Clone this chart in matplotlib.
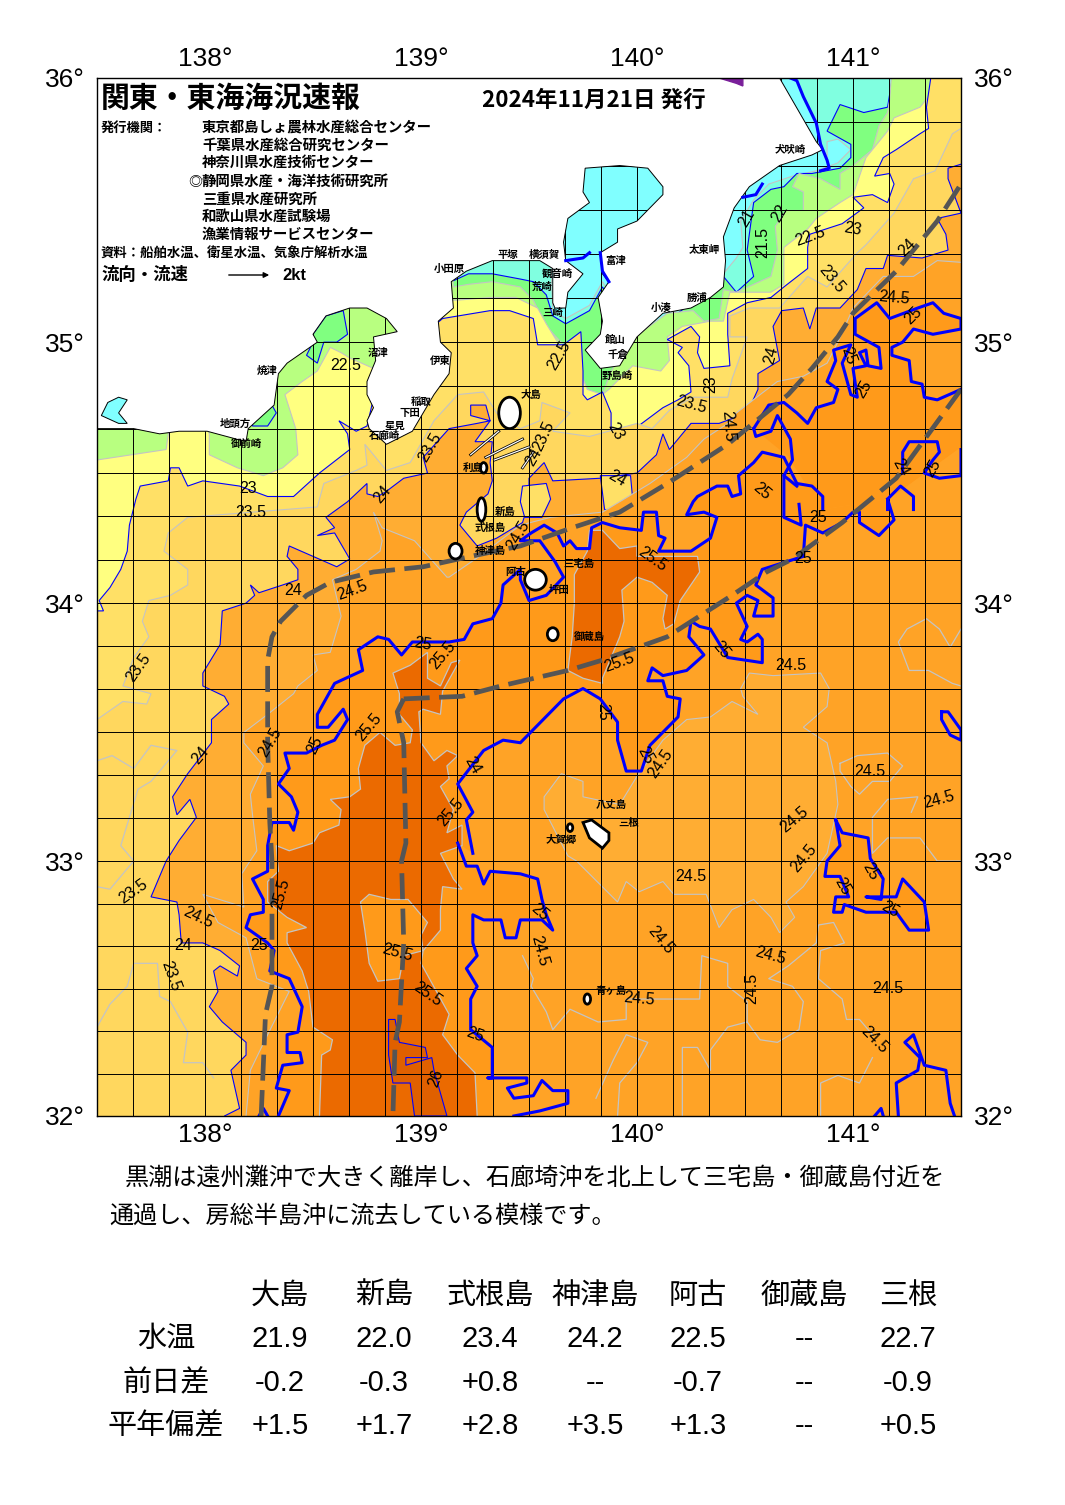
import numpy as np
import matplotlib
matplotlib.use("Agg")
import matplotlib.pyplot as plt
from matplotlib.patches import Polygon, Ellipse

plt.rcParams['font.family'] = ['Noto Sans CJK JP', 'DejaVu Sans']

# sea surface temperature areas, each list = boundary of water warmer than t (lon, lat)
t21 = [(137.47,36.03),(139.55,36.03),(139.6,35.35),(139.61,35.12),(139.67,35.09),(139.78,35.14),(139.84,35.23),(140.01,35.01),(140.4,35.26),(140.46,35.32),(140.49,35.36),(140.48,35.46),(140.54,35.54),(140.61,35.6),(140.72,35.63),(140.83,35.65),(140.93,35.68),(140.99,35.73),(140.93,35.77),(140.88,35.76),(140.88,35.69),(140.85,35.75),(140.83,35.83),(140.77,35.93),(140.74,35.99),(140.71,36.0),(140.69,36.03)]
t215 = [(137.47,36.03),(139.09,36.03),(139.14,35.23),(139.22,35.26),(139.33,35.26),(139.46,35.24),(139.52,35.23),(139.58,35.18),(139.61,35.10),(139.67,35.07),(139.78,35.12),(139.84,35.21),(140.01,34.99),(140.4,35.25),(140.46,35.19),(140.54,35.25),(140.51,35.35),(140.54,35.53),(140.62,35.58),(140.68,35.59),(140.74,35.64),(140.81,35.64),(140.94,35.66),(140.99,35.7),(140.99,35.75),(140.88,35.8),(140.94,35.9),(141.05,35.87),(141.16,35.89),(141.18,35.99),(141.2,36.03)]
t22 = [(137.47,36.03),(139.09,36.03),(139.15,35.21),(139.22,35.22),(139.33,35.23),(139.46,35.21),(139.52,35.16),(139.58,35.06),(139.66,34.99),(139.71,34.91),(139.76,34.83),(139.79,34.8),(139.84,34.8),(139.88,34.89),(139.99,35.02),(140.14,35.11),(140.26,35.12),(140.31,35.08),(140.38,35.09),(140.4,35.2),(140.46,35.19),(140.62,35.25),(140.65,35.35),(140.64,35.44),(140.69,35.5),(140.77,35.5),(140.77,35.57),(140.72,35.59),(140.75,35.64),(140.85,35.62),(140.94,35.58),(140.94,35.64),(141.0,35.67),(141.09,35.73),(141.12,35.82),(141.16,35.87),(141.17,35.92),(141.18,36.03)]
t225 = [(137.47,34.55),(137.5,34.55),(137.82,34.59),(137.83,34.65),(137.85,34.7),(138.0,34.7),(138.02,34.65),(138.02,34.57),(138.15,34.52),(138.27,34.49),(138.36,34.52),(138.43,34.57),(138.42,34.67),(138.37,34.8),(138.45,34.85),(138.52,34.89),(138.58,34.98),(138.63,34.96),(138.67,34.94),(138.78,34.9),(138.81,35.0),(139.09,35.16),(139.17,35.16),(139.32,35.17),(139.44,35.17),(139.54,35.13),(139.58,35.07),(139.64,34.99),(139.69,34.9),(139.75,34.86),(139.77,34.82),(139.84,34.8),(139.87,34.82),(139.98,34.91),(140.11,34.89),(140.15,34.93),(140.14,35.02),(140.21,35.06),(140.34,35.08),(140.4,35.08),(140.43,35.19),(140.62,35.19),(140.68,35.22),(140.68,35.36),(140.79,35.43),(140.83,35.47),(140.94,35.53),(141.0,35.56),(141.06,35.7),(141.16,35.8),(141.19,35.85),(141.31,35.89),(141.36,35.94),(141.5,35.99),(141.55,36.01)]
t23 = [(137.47,33.95),(137.5,33.97),(137.53,33.97),(137.51,34.01),(137.56,34.06),(137.61,34.13),(137.64,34.2),(137.65,34.3),(137.68,34.4),(137.7,34.45),(137.83,34.47),(137.84,34.52),(137.88,34.52),(137.92,34.45),(137.99,34.47),(138.16,34.45),(138.29,34.41),(138.41,34.41),(138.53,34.5),(138.67,34.59),(138.66,34.65),(138.62,34.7),(138.7,34.66),(138.75,34.68),(138.81,34.89),(139.1,35.09),(139.32,35.12),(139.41,35.12),(139.52,35.09),(139.54,34.99),(139.66,34.99),(139.74,35.04),(139.75,34.89),(139.75,34.8),(139.77,34.78),(139.84,34.81),(139.88,34.73),(139.88,34.67),(139.94,34.64),(139.99,34.67),(140.12,34.75),(140.19,34.78),(140.25,34.81),(140.24,34.91),(140.19,34.96),(140.21,34.98),(140.14,35.01),(140.25,35.06),(140.29,35.02),(140.28,34.96),(140.31,34.9),(140.43,34.91),(140.42,35.03),(140.42,35.11),(140.51,35.15),(140.62,35.17),(140.68,35.21),(140.79,35.28),(140.79,35.36),(140.8,35.41),(140.95,35.45),(141.05,35.51),(141.0,35.55),(141.09,35.56),(141.16,35.53),(141.19,35.6),(141.17,35.64),(141.1,35.63),(141.14,35.7),(141.2,35.73),(141.31,35.79),(141.35,35.81),(141.34,35.89),(141.36,36.0),(141.36,36.03)]
t235 = [(137.47,33.54),(137.5,33.55),(137.62,33.62),(137.73,33.61),(137.75,33.65),(137.62,33.68),(137.67,33.79),(137.74,33.87),(137.71,33.93),(137.74,34.01),(137.84,34.03),(137.92,34.07),(137.92,34.13),(137.81,34.2),(137.83,34.27),(137.92,34.33),(138.52,34.37),(138.55,34.46),(138.7,34.51),(138.75,34.53),(138.74,34.61),(138.84,34.51),(138.95,34.54),(139.06,34.7),(139.17,34.8),(139.29,34.81),(139.35,34.73),(139.46,34.67),(139.55,34.7),(139.56,34.77),(139.69,34.73),(139.61,34.66),(139.78,34.64),(140.0,34.69),(140.07,34.67),(140.15,34.74),(140.26,34.79),(140.42,34.79),(140.44,34.86),(140.51,35.02),(140.43,35.02),(140.43,35.1),(140.52,35.13),(140.66,35.13),(140.79,35.25),(140.88,35.21),(141.02,35.34),(141.06,35.37),(141.19,35.49),(141.28,35.62),(141.38,35.65),(141.46,35.79),(141.56,35.84)]
t24 = [(138.09,31.95),(138.09,32.0),(138.16,32.03),(138.12,32.18),(138.19,32.24),(138.19,32.29),(138.08,32.37),(138.02,32.43),(138.06,32.49),(138.04,32.57),(138.07,32.59),(138.15,32.55),(138.16,32.59),(138.07,32.65),(137.99,32.68),(137.89,32.68),(137.88,32.79),(137.87,32.84),(137.75,32.86),(137.82,33.0),(137.88,33.08),(137.96,33.17),(137.93,33.24),(137.87,33.18),(137.85,33.25),(137.92,33.34),(138.03,33.46),(138.03,33.55),(138.11,33.61),(138.09,33.64),(137.99,33.68),(137.99,33.73),(138.07,33.84),(138.08,33.97),(138.19,34.0),(138.23,34.03),(138.21,34.07),(138.25,34.04),(138.36,34.07),(138.43,34.09),(138.43,34.13),(138.38,34.18),(138.39,34.22),(138.61,34.14),(138.67,34.17),(138.6,34.27),(138.52,34.26),(138.6,34.29),(138.56,34.33),(138.66,34.39),(138.75,34.46),(138.75,34.42),(138.8,34.41),(138.84,34.43),(138.92,34.48),(139.03,34.5),(139.01,34.56),(139.13,34.67),(139.26,34.69),(139.32,34.7),(139.23,34.72),(139.23,34.76),(139.3,34.76),(139.32,34.7),(139.25,34.62),(139.33,34.62),(139.32,34.54),(139.33,34.47),(139.31,34.42),(139.21,34.35),(139.18,34.3),(139.26,34.22),(139.35,34.25),(139.47,34.31),(139.5,34.39),(139.5,34.48),(139.57,34.54),(139.61,34.47),(139.83,34.48),(140.0,34.5),(140.09,34.57),(140.12,34.65),(140.15,34.59),(140.25,34.69),(140.38,34.69),(140.51,34.73),(140.56,34.82),(140.56,34.88),(140.66,34.93),(140.63,35.06),(140.67,35.12),(140.77,35.13),(140.8,35.05),(140.83,35.13),(140.94,35.13),(141.02,35.2),(141.06,35.28),(141.14,35.28),(141.16,35.33),(141.32,35.32),(141.44,35.35),(141.43,35.41),(141.39,35.47),(141.5,35.49),(141.44,35.62),(141.44,35.66),(141.56,35.69)]
t245 = [(138.19,31.95),(138.19,32.0),(138.21,32.18),(138.29,32.32),(138.39,32.49),(138.24,32.54),(138.19,32.7),(138.06,32.76),(137.99,32.87),(138.18,32.82),(138.17,32.95),(138.24,33.04),(138.22,33.18),(138.21,33.26),(138.27,33.37),(138.18,33.46),(138.18,33.5),(138.29,33.57),(138.41,33.65),(138.43,33.68),(138.52,33.74),(138.5,33.8),(138.58,33.81),(138.63,33.95),(138.59,34.09),(138.7,34.13),(138.81,34.2),(138.82,34.24),(138.78,34.35),(138.82,34.29),(138.97,34.24),(139.12,34.1),(139.13,34.1),(139.27,34.18),(139.46,34.3),(139.6,34.33),(139.84,34.35),(140.06,34.46),(140.23,34.56),(140.31,34.63),(140.44,34.7),(140.46,34.73),(140.57,34.8),(140.65,34.85),(140.77,34.87),(140.88,34.92),(140.93,35.0),(140.99,35.11),(141.0,35.13),(141.14,35.25),(141.28,35.25),(141.39,35.31),(141.56,35.3)]

# 25 degree line, thick blue, several pieces
line25_west = [(138.34,32.0),(138.39,32.1),(138.33,32.11),(138.36,32.2),(138.45,32.21),(138.44,32.25),(138.38,32.25),(138.38,32.32),(138.43,32.33),(138.45,32.43),(138.39,32.54),(138.3,32.57),(138.32,32.65),(138.29,32.68),(138.19,32.74),(138.21,32.79),(138.27,32.8),(138.27,32.85),(138.22,32.93),(138.29,32.96),(138.29,33.06),(138.31,33.15),(138.39,33.15),(138.41,33.12),(138.43,33.19),(138.4,33.25),(138.34,33.3),(138.39,33.36),(138.37,33.42),(138.47,33.42),(138.54,33.45),(138.6,33.47),(138.66,33.55),(138.64,33.59),(138.57,33.52),(138.52,33.52),(138.52,33.57),(138.6,33.69),(138.73,33.74),(138.71,33.82),(138.8,33.87),(138.85,33.86),(138.91,33.8),(138.96,33.85),(139.13,33.85),(139.2,33.86),(139.24,33.92),(139.33,33.94),(139.37,34.0),(139.38,34.07),(139.46,34.13),(139.46,34.09),(139.5,34.01),(139.58,34.03),(139.66,34.1),(139.62,34.16),(139.55,34.24),(139.46,34.24),(139.51,34.27),(139.57,34.3),(139.63,34.27),(139.66,34.22),(139.69,34.24),(139.72,34.21),(139.78,34.21),(139.79,34.29),(139.84,34.31),(139.92,34.29),(140.02,34.28),(140.03,34.35),(140.09,34.35),(140.1,34.26),(140.13,34.25),(140.1,34.2),(140.25,34.2),(140.34,34.25),(140.37,34.33),(140.31,34.35),(140.23,34.34),(140.26,34.39),(140.28,34.41),(140.37,34.45),(140.42,34.45),(140.44,34.41),(140.48,34.42),(140.47,34.49),(140.54,34.54),(140.58,34.58),(140.68,34.56),(140.71,34.51),(140.74,34.46),(140.81,34.45),(140.86,34.41),(140.86,34.36)]
line25_south = [(141.16,34.4),(141.19,34.32),(141.12,34.26),(141.03,34.31),(141.03,34.35),(141.0,34.35),(140.95,34.31),(140.86,34.27),(140.78,34.3),(140.77,34.18),(140.58,34.13),(140.55,34.07),(140.63,34.02),(140.63,33.95),(140.54,33.95),(140.56,34.01),(140.51,34.03),(140.46,34.0),(140.51,33.91),(140.48,33.86),(140.51,33.85),(140.56,33.88),(140.58,33.86),(140.58,33.77),(140.42,33.79),(140.34,33.9),(140.29,33.91),(140.25,33.93),(140.24,33.87),(140.31,33.8),(140.23,33.74),(140.12,33.72),(140.07,33.75),(140.05,33.7),(140.12,33.7),(140.14,33.64),(140.2,33.63),(140.19,33.56),(140.06,33.45),(140.02,33.35),(139.95,33.35),(139.91,33.47),(139.91,33.54),(139.83,33.63),(139.75,33.67),(139.66,33.63),(139.46,33.46),(139.38,33.47),(139.29,33.43),(139.17,33.3),(139.24,33.19),(139.21,33.16),(139.24,33.03)]
line25_ne = [(140.54,34.67),(140.61,34.76),(140.68,34.77),(140.74,34.73),(140.79,34.69),(140.83,34.75),(140.91,34.77),(140.93,34.82),(140.88,34.85),(140.92,34.93),(140.91,34.97),(140.99,34.99),(140.95,34.92),(140.99,34.8),(141.02,34.79),(141.0,34.9),(141.06,34.91),(141.03,34.96),(141.06,34.97),(141.07,34.91),(141.13,34.9),(141.12,34.98),(141.01,35.03),(141.01,35.09),(141.11,35.15),(141.17,35.09),(141.3,35.13),(141.37,35.15),(141.42,35.11),(141.5,35.09),(141.5,35.05),(141.37,35.03),(141.28,35.05),(141.23,35.0),(141.18,34.98),(141.18,34.95),(141.26,34.93),(141.27,34.85),(141.32,34.84),(141.33,34.79),(141.39,34.78),(141.5,34.82)]
line25_mid = [(139.17,33.07),(139.21,32.98),(139.26,32.98),(139.29,32.91),(139.32,32.96),(139.46,32.95),(139.54,32.93),(139.56,32.85),(139.58,32.79),(139.61,32.73),(139.56,32.77),(139.46,32.77),(139.44,32.7),(139.39,32.7),(139.37,32.77),(139.29,32.77),(139.24,32.79),(139.24,32.68),(139.26,32.63),(139.21,32.58),(139.26,32.51),(139.23,32.46),(139.23,32.34),(139.33,32.27),(139.33,32.15),(139.31,32.15),(139.49,32.15),(139.49,32.13),(139.4,32.11),(139.43,32.07),(139.52,32.08),(139.56,32.14),(139.61,32.1),(139.68,32.1),(139.68,32.05),(139.55,32.02),(139.43,32.0)]
line25_pieces = [
    [(140.54,34.67),(140.55,34.64),(140.62,34.66),(140.65,34.72),(140.71,34.63),(140.72,34.55),(140.68,34.49),(140.74,34.45)],
    [(140.68,34.49),(140.68,34.33),(140.76,34.3),(140.75,34.38)],
    [(141.16,34.36),(141.16,34.4),(141.22,34.45),(141.28,34.41),(141.28,34.36)],
    [(141.5,34.59),(141.5,34.49),(141.4,34.48),(141.33,34.5),(141.37,34.55),(141.4,34.58),(141.39,34.62),(141.26,34.62),(141.23,34.58),(141.23,34.5)],
    [(140.92,33.16),(140.95,33.11),(141.07,33.09),(141.08,33.01),(141.14,32.93),(141.13,32.85),(141.06,32.86),(141.2,32.86),(141.23,32.93),(141.33,32.84),(141.35,32.73),(141.26,32.73),(141.2,32.8),(141.06,32.8),(140.96,32.83),(140.95,32.8),(140.91,32.8),(140.92,32.86),(140.98,32.86),(140.94,32.94),(140.87,32.94),(140.88,33.0),(140.94,33.06),(140.92,33.16)],
    [(141.21,32.0),(141.2,32.13),(141.3,32.18),(141.31,32.23),(141.24,32.29),(141.28,32.32),(141.33,32.2),(141.43,32.18),(141.45,32.05),(141.47,32.0)],
    [(141.41,33.58),(141.44,33.58),(141.5,33.51),(141.5,33.47),(141.45,33.49),(141.41,33.55),(141.41,33.58)],
    [(141.1,32.0),(141.13,32.03),(141.14,32.0)],
    [(138.25,32.0),(138.27,32.03),(138.29,32.0)],
]
line21_thick = [
    [(140.71,36.0),(140.74,35.99),(140.77,35.93),(140.83,35.83),(140.85,35.75),(140.88,35.69),(140.89,35.66),(140.85,35.65)],
    [(139.67,35.31),(139.75,35.32),(139.78,35.34)],
    [(139.83,35.34),(139.84,35.27),(139.87,35.23)],
    [(140.49,35.55),(140.55,35.56),(140.58,35.6)],
]

# warm water, 25.5 and over
t255_main = [(138.53,31.95),(138.53,32.0),(138.54,32.24),(138.58,32.26),(138.59,32.3),(138.5,32.35),(138.48,32.49),(138.45,32.57),(138.38,32.68),(138.38,32.72),(138.47,32.74),(138.38,32.78),(138.29,32.84),(138.29,32.92),(138.34,32.96),(138.33,33.06),(138.39,33.04),(138.5,33.07),(138.53,33.11),(138.62,33.14),(138.63,33.2),(138.58,33.24),(138.67,33.25),(138.72,33.28),(138.71,33.36),(138.74,33.45),(138.81,33.5),(138.88,33.45),(138.95,33.46),(138.96,33.51),(138.9,33.57),(138.9,33.65),(138.87,33.73),(138.95,33.76),(139.03,33.81),(139.03,33.71),(139.09,33.68),(139.14,33.77),(139.18,33.78),(139.1,33.66),(139.09,33.57),(139.01,33.59),(138.99,33.58),(139.0,33.46),(139.06,33.39),(139.12,33.43),(139.17,33.41),(139.12,33.37),(139.13,33.32),(139.09,33.29),(139.15,33.2),(139.12,33.11),(139.19,33.14),(139.19,33.06),(139.09,33.03),(139.15,32.93),(139.19,32.89),(139.1,32.9),(139.09,32.81),(139.09,32.73),(139.01,32.65),(139.0,32.6),(139.13,32.4),(139.1,32.32),(139.17,32.24),(139.25,32.17),(139.26,32.0),(139.26,31.95)]
t255_hole = [(138.72,32.84),(138.76,32.87),(138.86,32.85),(138.94,32.85),(139.03,32.76),(139.0,32.71),(139.01,32.65),(138.92,32.63),(138.9,32.54),(138.8,32.53),(138.76,32.6),(138.74,32.73)]
t255_east = [(139.78,34.28),(139.84,34.28),(139.92,34.21),(140.0,34.22),(140.0,34.18),(140.15,34.18),(140.28,34.18),(140.29,34.12),(140.2,34.01),(140.17,33.92),(140.13,33.9),(140.12,33.94),(140.14,34.03),(140.07,34.08),(140.0,34.1),(139.93,34.05),(139.94,33.93),(139.92,33.87),(139.84,33.71),(139.84,33.69),(139.75,33.71),(139.68,33.74),(139.7,33.87),(139.71,34.0),(139.71,34.11),(139.77,34.2)]
t26 = [(138.85,32.38),(138.88,32.38),(138.9,32.29),(139.02,32.27),(139.03,32.23),(138.93,32.23),(138.93,32.2),(139.05,32.23),(139.06,32.18),(139.12,32.0),(138.97,32.0),(138.95,32.13),(138.87,32.13),(138.85,32.24)]

# cooler patch south of Kuroshio, under 24.5
patch_cool = [(140.0,33.33),(140.12,33.47),(140.23,33.55),(140.34,33.56),(140.44,33.62),(140.56,33.57),(140.49,33.64),(140.48,33.67),(140.52,33.73),(140.63,33.72),(140.85,33.73),(140.89,33.67),(140.88,33.6),(140.77,33.52),(140.88,33.46),(140.92,33.31),(140.93,33.22),(140.88,33.03),(140.77,32.9),(140.69,32.84),(140.73,32.78),(140.66,32.72),(140.62,32.78),(140.54,32.85),(140.44,32.81),(140.38,32.74),(140.32,32.87),(140.17,32.87),(140.12,32.92),(140.01,32.88),(139.95,32.92),(139.91,32.84),(139.72,33.0),(139.68,33.02),(139.57,33.2),(139.57,33.25),(139.65,33.34),(139.75,33.31),(139.75,33.25),(139.92,33.22)]
pocket_a = [(139.47,34.45),(139.58,34.46),(139.6,34.4),(139.56,34.33),(139.48,34.33),(139.46,34.39)]
pocket_b = [(139.83,34.49),(139.97,34.49),(139.98,34.4),(139.94,34.36),(139.85,34.36)]
green_a = [(138.5,35.03),(138.56,35.1),(138.64,35.12),(138.66,35.03),(138.61,35.0),(138.55,35.0),(138.52,34.92),(138.47,34.95),(138.5,35.0)]
green_b = [(138.22,34.68),(138.22,34.71),(138.31,34.76),(138.33,34.73),(138.29,34.68)]

# half degree lines without a colour change worth drawing
grey_lines = [
    [(139.47,32.63),(139.52,32.54),(139.51,32.51),(139.58,32.41),(139.61,32.34),(139.69,32.42),(139.82,32.37),(139.95,32.38),(139.95,32.46),(140.14,32.46),(140.29,32.46),(140.3,32.63),(140.42,32.6),(140.42,32.51),(140.51,32.45),(140.51,32.37),(140.57,32.3),(140.65,32.29),(140.75,32.34),(140.77,32.45),(140.72,32.51),(140.61,32.54),(140.7,32.59),(140.83,32.68),(140.84,32.75),(140.91,32.76),(140.96,32.68),(140.85,32.65),(140.84,32.54),(140.95,32.46),(140.97,32.38),(141.03,32.38),(141.09,32.32)],
    [(141.5,33.9),(141.45,33.83),(141.4,33.9),(141.34,33.94),(141.25,33.9),(141.21,33.85),(141.26,33.74),(141.35,33.74),(141.46,33.69),(141.5,33.68)],
    [(140.94,33.38),(141.02,33.41),(141.16,33.42),(141.23,33.37),(141.17,33.31),(141.09,33.31),(141.03,33.26),(140.99,33.29),(140.94,33.35),(140.94,33.38)],
    [(141.5,33.0),(141.39,33.0),(141.31,33.09),(141.16,33.09),(141.09,33.03),(141.09,33.17),(141.16,33.24),(141.3,33.25),(141.27,33.19)],
    [(139.81,32.07),(139.89,32.22),(139.95,32.32),(140.05,32.29),(140.0,32.21),(139.92,32.13),(139.91,32.0)],
    [(140.21,32.0),(140.21,32.27),(140.28,32.27),(140.34,32.18),(140.34,32.26),(140.42,32.35),(140.51,32.37)],
    [(140.85,32.0),(140.85,32.13),(140.93,32.16),(141.03,32.13),(141.09,32.23)],
    [(137.5,32.35),(137.56,32.44),(137.64,32.51),(137.67,32.6),(137.78,32.6),(137.79,32.47),(137.84,32.45),(137.92,32.33),(137.9,32.21),(137.99,32.21),(138.04,32.15)],
    [(137.5,33.39),(137.57,33.41),(137.67,33.36),(137.75,33.45),(137.87,33.43),(137.75,33.31),(137.69,33.28),(137.61,33.06),(137.67,33.0),(137.56,32.89),(137.5,32.9)],
]

# Kuroshio axis
kuroshio = [
    [(138.26,32.0),(138.28,32.4),(138.31,32.51),(138.31,32.74),(138.31,33.0),(138.3,33.15),(138.29,33.46),(138.29,33.78),(138.31,33.87),(138.35,33.93),(138.47,34.03),(138.58,34.08),(138.78,34.12),(139.01,34.14),(139.23,34.18),(139.46,34.22),(139.7,34.29),(139.92,34.35),(140.14,34.46),(140.42,34.61),(140.7,34.8),(140.81,34.9),(140.93,35.02),(141.0,35.11),(141.2,35.27),(141.39,35.46),(141.5,35.6)],
    [(138.92,33.63),(139.19,33.64),(139.37,33.68),(139.68,33.74),(139.84,33.78),(140.14,33.87),(140.44,34.03),(140.6,34.12),(140.72,34.17),(140.95,34.31),(141.2,34.48),(141.5,34.82)],
    [(138.92,33.63),(138.89,33.58),(138.92,33.46),(138.93,33.07),(138.91,33.0),(138.92,32.68),(138.9,32.37),(138.88,32.29),(138.87,32.0)],
]

land = [(137.4,34.67),(137.67,34.67),(137.79,34.65),(137.88,34.66),(138.01,34.66),(138.19,34.62),(138.2,34.67),(138.32,34.76),(138.34,34.88),(138.38,34.92),(138.52,35.0),(138.5,35.03),(138.56,35.1),(138.67,35.13),(138.75,35.13),(138.84,35.09),(138.89,35.04),(138.78,35.02),(138.79,34.93),(138.75,34.85),(138.75,34.8),(138.78,34.75),(138.75,34.7),(138.76,34.67),(138.84,34.61),(138.96,34.66),(139.06,34.8),(139.13,34.88),(139.14,34.96),(139.09,35.0),(139.08,35.08),(139.15,35.13),(139.14,35.23),(139.21,35.27),(139.33,35.31),(139.55,35.31),(139.61,35.28),(139.61,35.15),(139.62,35.13),(139.67,35.13),(139.68,35.19),(139.75,35.26),(139.67,35.31),(139.66,35.38),(139.68,35.47),(139.78,35.53),(139.75,35.57),(139.76,35.66),(139.92,35.67),(140.05,35.66),(140.12,35.59),(140.12,35.56),(140.0,35.46),(139.91,35.43),(139.91,35.38),(139.83,35.34),(139.84,35.26),(139.87,35.23),(139.82,35.17),(139.84,35.08),(139.83,35.03),(139.76,34.97),(139.83,34.90),(139.92,34.91),(140.0,35.02),(140.12,35.11),(140.25,35.13),(140.34,35.17),(140.4,35.21),(140.41,35.31),(140.4,35.40),(140.45,35.51),(140.52,35.59),(140.66,35.67),(140.81,35.71),(140.86,35.73),(140.83,35.76),(140.66,36.0),(140.64,36.05),(137.4,36.05)]
hamana = [(137.52,34.72),(137.55,34.77),(137.6,34.79),(137.64,34.78),(137.6,34.73),(137.64,34.69),(137.6,34.69)]
hachijo = [(139.75,33.15),(139.79,33.16),(139.87,33.11),(139.87,33.08),(139.84,33.05),(139.78,33.09)]
purple = [(140.38,36.0),(140.49,36.0),(140.49,35.97),(140.46,35.98)]
island_lon = [139.41,139.28,139.16,139.53,139.61,139.29,139.77,139.69]
island_lat = [34.73,34.36,34.2,34.09,33.88,34.52,32.46,33.13]
island_w = [0.10,0.04,0.06,0.10,0.05,0.03,0.03,0.025]
island_h = [0.12,0.09,0.06,0.08,0.05,0.04,0.04,0.03]

# current arrows around Oshima
arrow_lines = [[(139.23,34.57),(139.36,34.66)],[(139.3,34.56),(139.47,34.63)],[(139.34,34.55),(139.5,34.6)],[(139.47,34.52),(139.52,34.58)]]

contour_labels = [
    ('22.5',138.65,34.91,0),('23',138.2,34.44,0),('23.5',138.21,34.35,0),('24',138.82,34.42,50),('23.5',139.04,34.6,60),
    ('23.5',139.57,34.64,65),('24',139.52,34.56,60),('22.5',139.64,34.95,60),('23',140.34,34.84,90),('24',140.62,34.95,75),
    ('21',140.51,35.47,60),('21.5',140.58,35.38,90),('22',140.66,35.49,60),('22.5',140.8,35.4,20),('23',141.0,35.43,-10),
    ('23.5',140.9,35.24,-50),('24',141.25,35.36,45),('24.5',141.19,35.17,-5),('23.5',140.25,34.76,-15),('24.5',140.42,34.68,-85),
    ('23',139.9,34.66,-60),('24',139.91,34.48,-30),('24.5',138.68,34.05,20),('24',138.41,34.05,0),('24.5',139.45,34.26,60),
    ('25',139.01,33.84,-10),('25.5',139.1,33.8,50),('23.5',137.69,33.75,55),('24',137.98,33.41,50),('24.5',138.3,33.46,60),
    ('25',138.51,33.45,65),('25.5',138.76,33.52,50),('25.5',139.14,33.19,50),('24',139.24,33.37,-60),('25.5',138.35,32.87,75),
    ('23.5',137.67,32.88,35),('24.5',137.97,32.78,-25),('24',137.9,32.67,0),('23.5',137.84,32.55,-70),('25',138.25,32.67,0),
    ('25.5',138.89,32.64,-15),('25.5',139.03,32.48,-35),('26',139.07,32.15,70),('25',139.25,32.32,-20),('25',139.84,33.58,-90),
    ('24.5',140.11,33.38,55),('25',140.04,33.41,-60),('24.5',140.71,33.76,0),('25.5',139.92,33.77,20),('25.5',140.07,34.17,-35),
    ('25',140.77,34.17,0),('25',140.39,33.82,-50),('24.5',141.08,33.35,0),('24.5',141.4,33.24,15),('24.5',140.73,33.16,40),
    ('24.5',140.77,33.01,50),('24.5',140.25,32.94,0),('24.5',140.11,32.69,-50),('24.5',140.62,32.63,-15),('24.5',140.53,32.5,90),
    ('24.5',141.16,32.5,0),('24.5',141.1,32.3,-45),('24.5',140.01,32.46,-5),('24.5',139.55,32.65,-75),('25',141.17,32.81,-30),
    ('25',141.08,32.96,-60),('25',140.95,32.9,-60),('25',139.55,32.8,-40),('25',140.58,34.43,-40),('25',140.84,34.33,0),
    ('25',141.37,34.52,60),('24',141.22,34.52,-60),('25',140.98,34.95,-70),('25',141.05,34.82,60),('25',141.28,35.1,45),
]
place_names = [
    ('小田原',139.13,35.28),('平塚',139.4,35.33),('横須賀',139.57,35.33),('観音崎',139.63,35.26),('荒崎',139.56,35.21),
    ('三崎',139.61,35.11),('富津',139.9,35.31),('太東岬',140.31,35.35),('小湊',140.11,35.13),('勝浦',140.28,35.17),
    ('館山',139.9,35.01),('千倉',139.91,34.95),('野島崎',139.91,34.87),('犬吠崎',140.71,35.73),('沼津',138.8,34.96),
    ('伊東',139.09,34.93),('焼津',138.29,34.89),('地頭方',138.14,34.69),('御前崎',138.19,34.61),('稲取',139.0,34.77),
    ('下田',138.95,34.73),('星見',138.88,34.68),('石廊崎',138.83,34.64),('大島',139.51,34.8),('利島',139.24,34.52),
    ('新島',139.39,34.35),('式根島',139.32,34.29),('神津島',139.32,34.2),('阿古',139.44,34.12),('三宅島',139.73,34.15),
    ('坪田',139.64,34.05),('御蔵島',139.78,33.87),('八丈島',139.88,33.22),('三根',139.96,33.15),('大賀郷',139.65,33.08),
    ('青ヶ島',139.88,32.49),
]

issuers = ['東京都島しょ農林水産総合センター','千葉県水産総合研究センター','神奈川県水産技術センター','静岡県水産・海洋技術研究所',
           '三重県水産研究所','和歌山県水産試験場','漁業情報サービスセンター']
stations = ['大島','新島','式根島','神津島','阿古','御蔵島','三根']
water_temp = ['21.9','22.0','23.4','24.2','22.5','--','22.7']
day_diff = ['-0.2','-0.3','+0.8','--','-0.7','--','-0.9']
normal_diff = ['+1.5','+1.7','+2.8','+3.5','+1.3','--','+0.5']
row_names = ['水温','前日差','平年偏差']

W, H = 1065, 1505
NUM_FONT = ['Liberation Sans', 'DejaVu Sans']


def merc(lat):
    return np.degrees(np.log(np.tan(np.pi / 4 + np.radians(lat) / 2)))


def merc_inv(y):
    return np.degrees(2 * np.arctan(np.exp(np.radians(y))) - np.pi / 2)


def ring(path, west=True):
    # close an isotherm off the map to the south so it fills the warm side
    pts = list(path) + [(141.6, path[-1][1]), (141.6, 31.9)]
    if west:
        pts += [(137.4, 31.9), (137.4, path[0][1])]
    else:
        pts += [(path[0][0], 31.9)]
    return pts


def fig_text(x, y, s, **kw):
    # positions in pixels of the page
    kw.setdefault('ha', 'left')
    kw.setdefault('va', 'center')
    fig.text(x / W, 1 - y / H, s, **kw)


fig = plt.figure(figsize=(W / 100, H / 100), dpi=100)
ax = fig.add_axes([97 / W, 1 - 1116 / H, 864 / W, 1038 / H])
ax.set_yscale('function', functions=(merc, merc_inv))
ax.set_xlim(137.5, 141.5)
ax.set_ylim(32, 36)
ax.set_facecolor('#80FFFF')

GREY = '#C4C4C4'
BLUE = '#0000FF'
layers = [
    (ring(t21), '#80FFE0', GREY),
    (ring(t215), '#80FF80', BLUE),
    (ring(t22), '#B8FF80', GREY),
    (green_a, '#80FF80', BLUE),
    (green_b, '#80FF80', BLUE),
    (ring(t225), '#FFFF80', GREY),
    (ring(t23), '#FFE066', BLUE),
    (ring(t235), '#FFD75E', GREY),
    (ring(t24, west=False), '#FFAD33', BLUE),
    (pocket_a, '#FFE066', BLUE),
    (pocket_b, '#FFE066', BLUE),
    (ring(t245, west=False), '#FFA326', GREY),
    (patch_cool, '#FFAD33', GREY),
]
for pts, fc, ec in layers:
    ax.add_patch(Polygon(pts, closed=True, facecolor=fc, edgecolor=ec, lw=0.8, zorder=1))

# warm tongue and lobes inside the 25 line
tongue = line25_west + line25_south + line25_mid[:24] + [(139.33, 32.0), (138.34, 32.0)]
lobe = line25_ne + [(141.5, 34.6), (141.2, 34.42), (140.86, 34.41), (140.72, 34.55)]
band = [(140.86, 34.36), (141.16, 34.4), (141.5, 34.6), (141.5, 34.82), (141.0, 34.6), (140.7, 34.56)]
patch_se = line25_pieces[4]
for pts in (tongue, lobe, band, patch_se):
    ax.add_patch(Polygon(pts, closed=True, facecolor='#FF9A1A', edgecolor='none', zorder=1.1))
ax.add_patch(Polygon(t255_main, closed=True, facecolor='#EB6A00', edgecolor=GREY, lw=0.9, zorder=1.2))
ax.add_patch(Polygon(t255_east, closed=True, facecolor='#EB6A00', edgecolor=GREY, lw=0.9, zorder=1.2))
ax.add_patch(Polygon(t255_hole, closed=True, facecolor='#FF9A1A', edgecolor=GREY, lw=0.9, zorder=1.3))
ax.add_patch(Polygon(t26, closed=True, facecolor='#E06000', edgecolor=BLUE, lw=0.8, zorder=1.4))

for pts in grey_lines:
    xs, ys = zip(*pts)
    ax.plot(xs, ys, color=GREY, lw=0.9, zorder=1.5)

# one degree labels and 10 minute grid
ax.set_xticks([138, 139, 140, 141])
ax.set_xticklabels(['138°', '139°', '140°', '141°'], fontsize=19, family=NUM_FONT)
ax.set_yticks([32, 33, 34, 35, 36])
ax.set_yticklabels(['32°', '33°', '34°', '35°', '36°'], fontsize=19, family=NUM_FONT)
ax.set_xticks(np.arange(137.5, 141.51, 1 / 6), minor=True)
ax.set_yticks(np.arange(32, 36.01, 1 / 6), minor=True)
ax.tick_params(which='both', length=0, top=True, right=True, labeltop=True, labelright=True)
ax.tick_params(axis='x', pad=5)
ax.tick_params(axis='y', pad=9)
ax.grid(which='both', color='black', lw=0.7)
ax.set_axisbelow(False)
for tick in ax.xaxis.get_minor_ticks() + ax.yaxis.get_minor_ticks() + ax.xaxis.get_major_ticks() + ax.yaxis.get_major_ticks():
    tick.gridline.set_zorder(2)
    tick.set_zorder(2)
for sp in ax.spines.values():
    sp.set_linewidth(1.0)
    sp.set_zorder(12)

ax.add_patch(Polygon(land, closed=True, facecolor='white', edgecolor='black', lw=0.7, zorder=4))
ax.add_patch(Polygon(hamana, closed=True, facecolor='#80FFFF', edgecolor='black', lw=0.7, zorder=4.1))
ax.add_patch(Polygon(purple, closed=True, facecolor='#7A1F9A', edgecolor='#7A1F9A', lw=1, zorder=4.1))
ax.add_patch(Polygon(hachijo, closed=True, facecolor='white', edgecolor='black', lw=2, zorder=7))
for lon, lat, w, h in zip(island_lon, island_lat, island_w, island_h):
    ax.add_patch(Ellipse((lon, lat), w, h, facecolor='white', edgecolor='black', lw=2, zorder=7))

for pts in [line25_west, line25_south, line25_ne, line25_mid] + line25_pieces + line21_thick:
    xs, ys = zip(*pts)
    ax.plot(xs, ys, color=BLUE, lw=2.2, solid_joinstyle='round', zorder=5)
for pts in kuroshio:
    xs, ys = zip(*pts)
    ax.plot(xs, ys, color='#555555', lw=3.4, dashes=(5.5, 2), dash_capstyle='butt', zorder=6)
for pts in arrow_lines:
    xs, ys = zip(*pts)
    ax.plot(xs, ys, color='black', lw=2, zorder=7)
    ax.plot(xs, ys, color='white', lw=0.9, zorder=7.1)

for s, lon, lat, rot in contour_labels:
    ax.text(lon, lat, s, fontsize=11.5, family=NUM_FONT, rotation=rot, rotation_mode='anchor',
            ha='center', va='center', color='black', zorder=8)
for s, lon, lat in place_names:
    ax.text(lon, lat, s, fontsize=7.5, fontweight='bold', ha='center', va='center', color='black', zorder=9)

# heading block
fig_text(101, 98, '関東・東海海況速報', fontsize=20.8, fontweight='bold')
fig_text(482, 100, '2024年11月21日 発行', fontsize=16.2, fontweight='bold')
fig_text(101, 128, '発行機関：', fontsize=9.5, fontweight='bold')
issuer_y = [128, 146, 163, 182, 200, 217, 235]
for s, y in zip(issuers, issuer_y):
    fig_text(202, y, s, fontsize=10.4, fontweight='bold')
fig_text(188, 182, '◎', fontsize=10, fontweight='bold')
fig_text(101, 254, '資料：船舶水温、衛星水温、気象庁解析水温', fontsize=9.6, fontweight='bold')
fig_text(101, 275, '流向・流速', fontsize=12.5, fontweight='bold')
fig_text(282, 275, '2kt', fontsize=12, fontweight='bold', family=NUM_FONT)
ax.annotate('', xy=(272 / W, 1 - 275 / H), xytext=(226 / W, 1 - 275 / H), xycoords='figure fraction',
            textcoords='figure fraction', arrowprops=dict(arrowstyle='-|>', color='black', lw=1, mutation_scale=8), zorder=10)

# comment text under the map
fig_text(125, 1178, '黒潮は遠州灘沖で大きく離岸し、石廊埼沖を北上して三宅島・御蔵島付近を', fontsize=17.4)
fig_text(109, 1216, '通過し、房総半島沖に流去している模様です。', fontsize=17.4)

# station table
col_x = [280, 384, 490, 595, 698, 804, 908]
row_y = [1339, 1383, 1426]
for x, name in zip(col_x, stations):
    fig_text(x, 1296, name, fontsize=21, ha='center')
for y, name in zip(row_y, row_names):
    fig_text(166, y, name, fontsize=21, ha='center')
for y, values in zip(row_y, [water_temp, day_diff, normal_diff]):
    for x, v in zip(col_x, values):
        fig_text(x, y, v, fontsize=21, ha='center', family=NUM_FONT)

fig.savefig('out.png', dpi=100, facecolor='white')
